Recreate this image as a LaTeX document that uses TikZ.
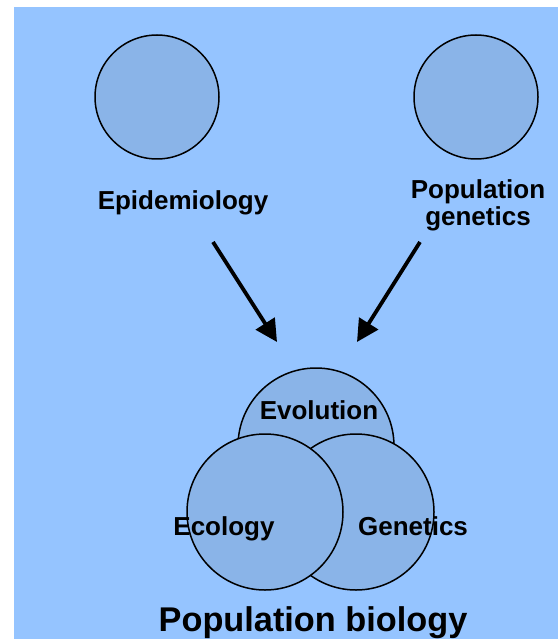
\documentclass[tikz,border=0pt]{standalone}
\usepackage{fontspec}
\setmainfont{Liberation Sans}
\usetikzlibrary{arrows.meta}
\definecolor{bgblue}{RGB}{149,196,255}
\definecolor{setblue}{RGB}{138,180,232}

\begin{document}
\begin{tikzpicture}[x=1pt, y=-1pt,
		setcircle/.style={circle, draw=black, line width=1.5pt, fill=setblue, minimum size=156pt, inner sep=0pt},
		fieldcircle/.style={setcircle, minimum size=124pt},
		lbl/.style={font=\fontsize{26}{27}\selectfont\bfseries, align=center, anchor=base, inner sep=0pt},
		bigarrow/.style={line width=3.8pt, -{Triangle[length=22pt,width=22pt]}}]
		\useasboundingbox (0,0) rectangle (558,639);
		\fill[bgblue] (14,7) rectangle (558,639);
		% the two fields on top
		\node[fieldcircle] (epicircle) at (157,97) {};
		\node[fieldcircle] (popgencircle) at (476,97) {};
		\node[lbl] (epi) at (183,209) {Epidemiology};
		\node[lbl] (popgen) at (478,225) {Population\\genetics};
		% arrows into the venn diagram
		\coordinate (EpiStart) at (213,242);
		\coordinate (EpiEnd) at (277,342);
		\coordinate (PopStart) at (420,242);
		\coordinate (PopEnd) at (357,342);
		\draw[bigarrow] (EpiStart) -- (EpiEnd);
		\draw[bigarrow] (PopStart) -- (PopEnd);
		% venn diagram
		\node[setcircle] (evo) at (316,446) {};
		\node[setcircle] (gen) at (356,512) {};
		\node[setcircle] (eco) at (265,512) {};
		\node[lbl] at (319,419) {Evolution};
		\node[lbl] at (224,535) {Ecology};
		\node[lbl] at (413,535) {Genetics};
		\node[lbl, font=\fontsize{34.3}{40}\selectfont\bfseries] (popbio) at (313,631) {Population biology};
\end{tikzpicture}
\end{document}
